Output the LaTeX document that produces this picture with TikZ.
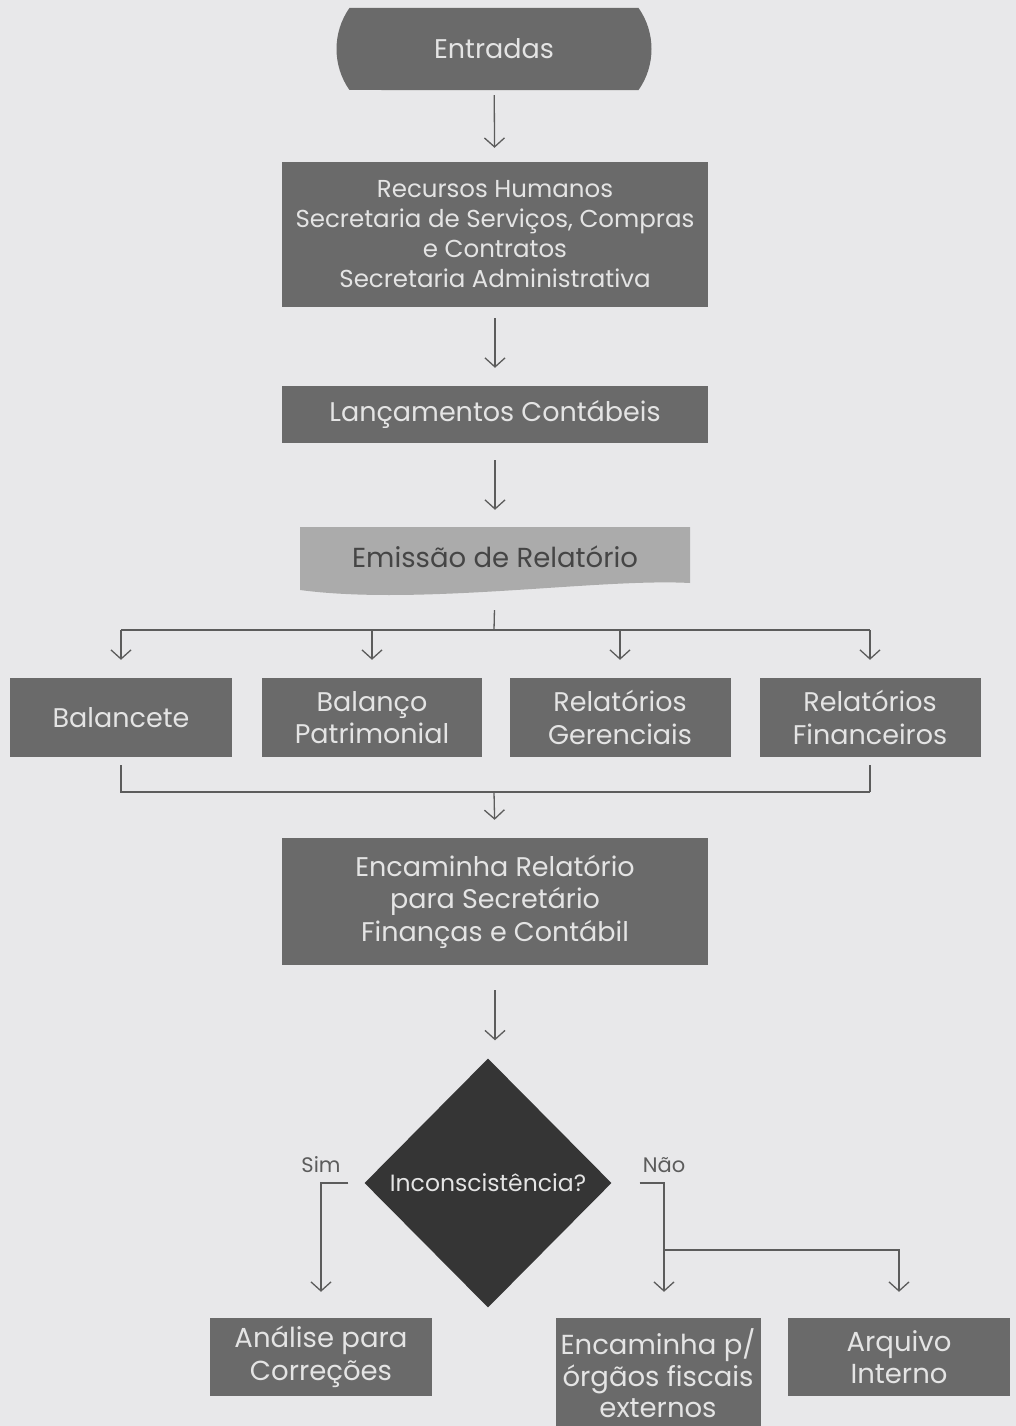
\documentclass[tikz,border=0pt]{standalone}
\usepackage{fontspec}
\setmainfont{Poppins}
\usetikzlibrary{arrows.meta,shapes.misc,shapes.geometric}
\definecolor{bg}{HTML}{E8E8EA}
\definecolor{boxg}{HTML}{6A6A6A}
\definecolor{boxtxt}{HTML}{E4E4E4}
\definecolor{docg}{HTML}{ABABAB}
\definecolor{doctxt}{HTML}{454545}
\definecolor{decg}{HTML}{353535}
\definecolor{lineg}{HTML}{5C5C5C}
\begin{document}
\begin{tikzpicture}[x=1pt,y=-1pt,
  box/.style={fill=boxg, text=boxtxt, align=center, inner sep=0pt,
    font=\fontsize{27}{32.5}\selectfont},
  bigbox/.style={box, font=\fontsize{27.5}{32.5}\selectfont},
  line/.style={draw=lineg, line width=1.3pt},
  arr/.style={line, -{Straight Barb[length=9pt,width=20pt]}},
  lbl/.style={text=lineg, font=\fontsize{21}{24}\selectfont}]
\useasboundingbox (0,0) rectangle (1016,1426);
\fill[bg] (0,0) rectangle (1016,1426);
\clip (0,0) rectangle (1016,1426);

% document shape (drawn directly, under its label)
\fill[docg] (300,527) -- (690,527) -- (690,583)
  .. controls (600,578) and (420,606) .. (300,590) -- cycle;

% nodes
\node[box, rounded rectangle, rounded rectangle arc length=70,
  minimum width=315pt, minimum height=82pt] (ent) at (494,49) {Entradas};
\node[box, minimum width=426pt, minimum height=145pt,
  font=\fontsize{24.5}{30}\selectfont] (rh) at (495,234.5)
  {Recursos Humanos\\Secretaria de Serviços, Compras\\e Contratos\\Secretaria Administrativa};
\node[box, minimum width=426pt, minimum height=57pt] (lc) at (495,414.5) {Lançamentos Contábeis};
\node[text=doctxt, inner sep=0pt, minimum width=390pt, minimum height=60pt,
  font=\fontsize{27.5}{30}\selectfont] (emi) at (495,557) {Emissão de Relatório};

\node[box, minimum width=222pt, minimum height=79pt] (b1) at (121,717.5) {Balancete};
\node[box, minimum width=220pt, minimum height=79pt] (b2) at (372,717.5) {Balanço\\Patrimonial};
\node[box, minimum width=221pt, minimum height=79pt] (b3) at (620,717.5) {Relatórios\\Gerenciais};
\node[box, minimum width=221pt, minimum height=79pt] (b4) at (870,717.5) {Relatórios\\Financeiros};

\node[box, minimum width=426pt, minimum height=127pt] (enc) at (495,901.5)
  {Encaminha Relatório\\para Secretário\\Finanças e Contábil};

\node[diamond, aspect=1, fill=decg, text=boxtxt, inner sep=0pt,
  minimum width=247pt, minimum height=249pt,
  font=\fontsize{23.5}{26}\selectfont] (dec) at (488,1183) {Inconscistência?};

\node[bigbox, minimum width=222pt, minimum height=78pt] (an) at (321,1357) {Análise para\\Correções};
\node[bigbox, minimum width=205pt, minimum height=110pt, anchor=north,
  font=\fontsize{27.5}{31.5}\selectfont] (enx) at (658,1318)
  {Encaminha p/\\órgãos fiscais\\externos};
\node[bigbox, minimum width=222pt, minimum height=78pt] (arq) at (899,1357) {Arquivo\\Interno};

\node[lbl] (sim) at (321,1165) {Sim};
\node[lbl] (nao) at (664,1165) {Não};

% coordinates
\coordinate (split) at (494,630);
\coordinate (join) at (494,792);
\coordinate (nb) at (664,1250);

% connectors
\draw[arr, shorten <=5pt, shorten >=14pt] (ent) -- (rh);
\draw[arr, shorten <=11pt, shorten >=18pt] (rh) -- (lc);
\draw[arr, shorten <=17pt, shorten >=17pt] (lc) -- (emi);
\draw[line, shorten <=23pt] (emi.south) -- (split);
\draw[line] (b1.north |- split) -- (b4.north |- split);
\foreach \b in {b1,b2,b3,b4}
  \draw[arr, shorten >=18pt] (\b.north |- split) -- (\b.north);
\draw[line, shorten <=8pt] (b1.south) -- (b1.south |- join) -- (b4.south |- join);
\draw[line, shorten <=8pt] (b4.south) -- (b4.south |- join);
\draw[arr, shorten >=18pt] (join) -- (enc.north);
\draw[arr, shorten <=25pt, shorten >=18pt] (enc.south) -- (enc.south |- dec.north);
\draw[arr, shorten <=16pt, shorten >=26pt] (dec.west) -| (an.north);
\draw[arr, shorten <=28pt, shorten >=26pt] (dec.east) -| (nao.south |- an.north);
\draw[arr, shorten >=26pt] (nb) -| (arq.north);
\end{tikzpicture}
\end{document}
